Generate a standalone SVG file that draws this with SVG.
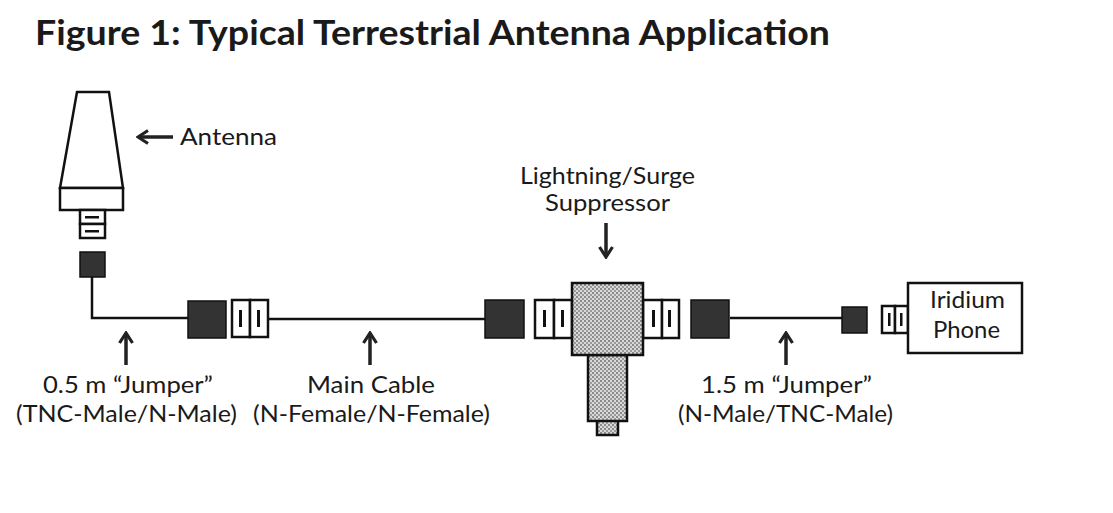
<svg xmlns="http://www.w3.org/2000/svg" width="1113" height="513" viewBox="0 0 1113 513">
<defs>
<pattern id="stip" width="4" height="4" patternUnits="userSpaceOnUse">
<rect width="4" height="4" fill="#d8d8d8"/>
<rect x="0" y="0" width="2" height="2" fill="#8a8a8a"/>
<rect x="2" y="2" width="2" height="2" fill="#9a9a9a"/>
</pattern>
<marker id="ah" viewBox="0 0 14 16" refX="12" refY="8" markerWidth="14" markerHeight="16" markerUnits="userSpaceOnUse" orient="auto">
<path d="M2,1.5 L12,8 L2,14.5" fill="none" stroke="#222" stroke-width="3.2" stroke-linejoin="miter"/>
</marker>
<style>
.t{font-family:Lato,"Open Sans","Liberation Sans",sans-serif;fill:#1a1a1a;font-size:23px}
.ti{font-family:Lato,"Open Sans","Liberation Sans",sans-serif;fill:#1a1a1a;font-size:34px;font-weight:bold}
.o{fill:#fff;stroke:#111;stroke-width:2.5}
.b{fill:#333;stroke:#111;stroke-width:1.5}
.s{fill:url(#stip);stroke:#111;stroke-width:2.5}
.w{fill:none;stroke:#111;stroke-width:2.5}
.ar{fill:none;stroke:#222;stroke-width:3.5;marker-end:url(#ah)}
.bar{fill:#111}
</style>
</defs>
<rect width="1113" height="513" fill="#fff"/>
<text class="ti" x="35" y="45" textLength="795" lengthAdjust="spacingAndGlyphs">Figure 1: Typical Terrestrial Antenna Application</text>

<g id="connectors">
<path class="w" d="M92,277 V318 H188"/>
<path class="w" d="M268,319 H485"/>
<path class="w" d="M730,318 H842"/>
</g>

<g id="antenna">
<path class="o" d="M77,92 H109 L123,188 H60 Z"/>
<rect class="o" x="60" y="188" width="63" height="22"/>
<rect class="o" x="80" y="210" width="25" height="14"/>
<rect class="o" x="80" y="224" width="25" height="14"/>
<rect class="bar" x="85" y="216" width="14" height="2.5"/>
<rect class="bar" x="85" y="230" width="14" height="2.5"/>
<rect class="b" x="80" y="252" width="25" height="25"/>
<path class="ar" d="M173,137 H138"/>
<text class="t" x="180" y="145" textLength="97" lengthAdjust="spacingAndGlyphs">Antenna</text>
</g>

<g id="jumper1">
<rect class="b" x="188" y="301" width="38" height="37"/>
<rect class="o" x="232" y="300" width="18" height="37"/>
<rect class="o" x="250" y="300" width="18" height="37"/>
<rect class="bar" x="239" y="310" width="3" height="17"/>
<rect class="bar" x="257" y="310" width="3" height="17"/>
<path class="ar" d="M126,365 V333"/>
<text class="t" x="43" y="393" textLength="170" lengthAdjust="spacingAndGlyphs">0.5 m “Jumper”</text>
<text class="t" x="16" y="422" textLength="221" lengthAdjust="spacingAndGlyphs">(TNC-Male/N-Male)</text>
</g>

<g id="maincable">
<path class="ar" d="M370,365 V333"/>
<text class="t" x="307" y="393" textLength="128" lengthAdjust="spacingAndGlyphs">Main Cable</text>
<text class="t" x="253" y="422" textLength="237" lengthAdjust="spacingAndGlyphs">(N-Female/N-Female)</text>
<rect class="b" x="485" y="300" width="39" height="38"/>
</g>

<g id="suppressor">
<rect class="o" x="535" y="300" width="19" height="38"/>
<rect class="o" x="554" y="300" width="18" height="38"/>
<rect class="bar" x="543" y="310" width="3" height="17"/>
<rect class="bar" x="561" y="310" width="3" height="17"/>
<rect class="o" x="643" y="300" width="19" height="38"/>
<rect class="o" x="662" y="300" width="17" height="38"/>
<rect class="bar" x="652" y="310" width="3" height="17"/>
<rect class="bar" x="668" y="310" width="3" height="17"/>
<rect class="s" x="597" y="420" width="21" height="15"/>
<rect class="s" x="588" y="355" width="39" height="66"/>
<rect class="s" x="572" y="283" width="71" height="72"/>
<text class="t" x="520" y="184" textLength="175" lengthAdjust="spacingAndGlyphs">Lightning/Surge</text>
<text class="t" x="545" y="211" textLength="125" lengthAdjust="spacingAndGlyphs">Suppressor</text>
<path class="ar" d="M606,223 V257"/>
</g>

<g id="jumper2">
<rect class="b" x="691" y="300" width="38" height="38"/>
<rect class="b" x="842" y="307" width="25" height="26"/>
<path class="ar" d="M786,365 V333"/>
<text class="t" x="701" y="393" textLength="171" lengthAdjust="spacingAndGlyphs">1.5 m “Jumper”</text>
<text class="t" x="678" y="422" textLength="215" lengthAdjust="spacingAndGlyphs">(N-Male/TNC-Male)</text>
</g>

<g id="phone">
<rect class="o" x="882" y="306" width="13" height="27"/>
<rect class="o" x="895" y="306" width="13" height="27"/>
<rect class="bar" x="888" y="313" width="2.5" height="13"/>
<rect class="bar" x="900" y="313" width="2.5" height="13"/>
<rect class="o" x="908" y="283" width="114" height="70"/>
<text class="t" x="930" y="308" textLength="75" lengthAdjust="spacingAndGlyphs">Iridium</text>
<text class="t" x="933" y="338" textLength="67" lengthAdjust="spacingAndGlyphs">Phone</text>
</g>
</svg>
